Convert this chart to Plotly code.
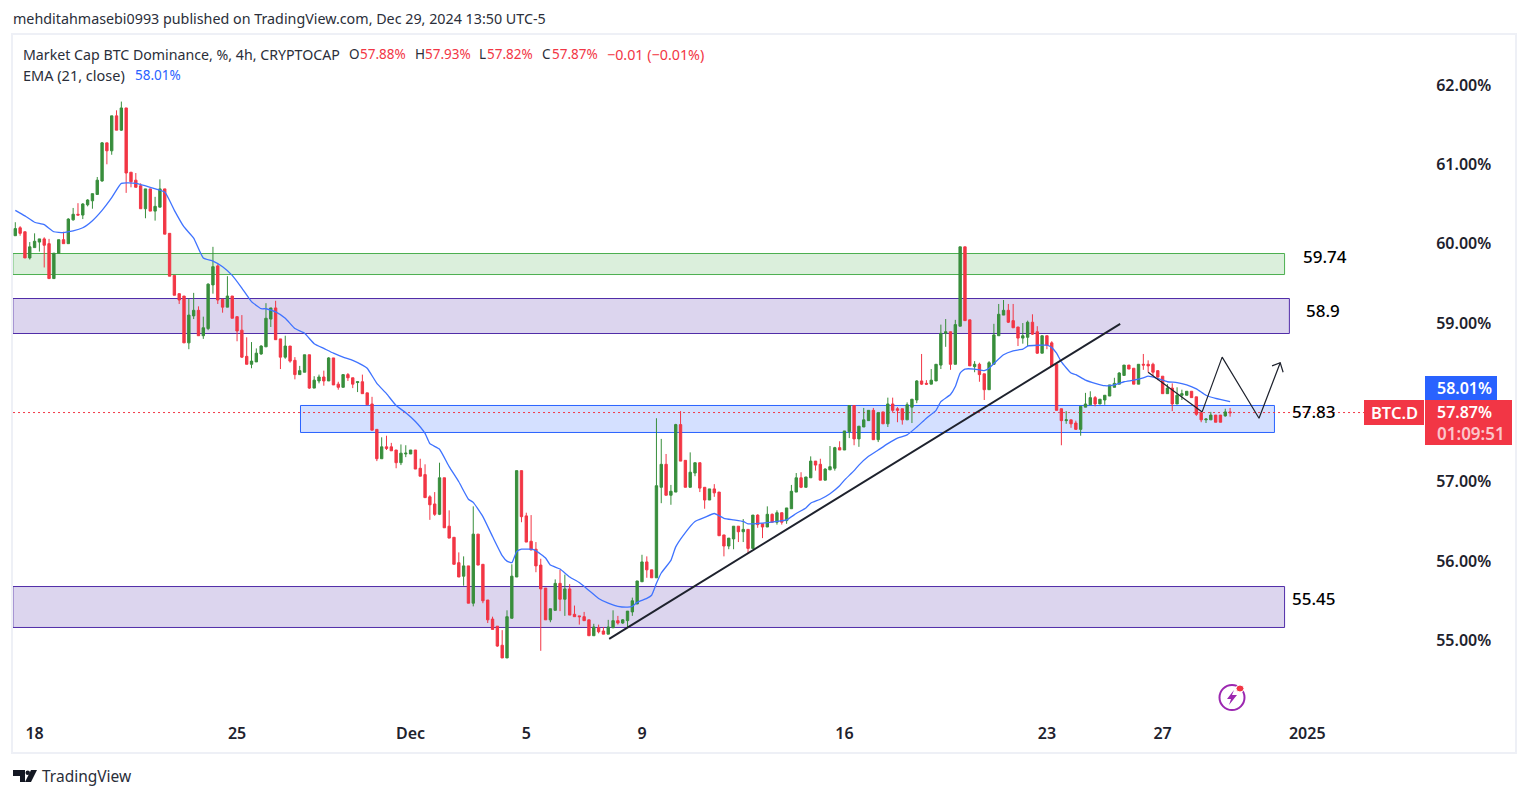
import plotly.graph_objects as go

opens = [60.10,60.20,60.15,59.82,59.95,60.02,60.06,60.00,59.56,59.88,60.05,60.00,60.30,60.37,60.36,60.49,60.54,60.62,60.79,61.27,61.17,61.61,61.43,61.71,60.90,60.80,60.73,60.44,60.69,60.41,60.46,60.69,60.13,59.60,59.37,59.34,58.75,59.09,59.16,58.84,58.93,59.48,59.72,59.30,59.20,59.34,59.08,
58.91,58.58,58.48,58.51,58.61,58.70,59.05,59.19,58.80,58.57,58.71,58.53,58.35,58.38,58.60,58.18,58.27,58.32,58.27,58.56,58.23,58.19,58.35,58.31,58.25,58.26,58.12,57.98,57.66,57.29,57.44,57.44,57.40,57.24,57.35,57.35,57.40,57.17,57.09,56.81,56.72,56.59,57.05,56.44,56.30,55.98,55.81,55.94,55.47,56.34,55.96,55.51,55.27,55.18,54.94,54.78,55.28,55.80,57.14,56.57,56.25,56.15,55.95,55.66,55.26,55.38,55.72,55.52,55.65,55.33,55.31,55.30,55.26,55.06,55.16,55.12,55.08,55.16,55.25,55.22,
55.25,55.36,55.46,55.74,55.99,55.89,55.79,56.93,57.22,56.83,56.87,57.72,57.27,56.93,57.11,57.24,56.93,56.77,56.91,56.87,56.33,56.19,56.28,56.44,56.37,56.40,56.16,56.58,56.47,56.43,56.59,56.49,56.61,56.51,56.66,56.87,57.05,56.93,57.05,57.26,57.22,57.02,57.15,57.17,57.43,
57.40,57.63,57.96,57.54,57.69,57.77,57.90,57.53,57.88,57.73,57.98,57.92,57.92,57.78,57.94,58.03,58.27,58.24,58.23,58.27,58.47,58.87,58.89,58.48,58.96,59.96,59.04,58.45,58.48,58.36,58.16,58.48,58.84,59.10,59.16,59.03,58.95,58.81,58.82,59.01,58.89,58.62,58.84,58.75,58.48,57.92,57.77,57.78,57.74,
57.66,57.94,57.97,58.06,57.98,58.03,58.08,58.19,58.23,58.34,58.47,58.43,58.23,58.48,58.48,58.48,58.40,58.33,58.11,58.18,57.98,58.09,58.09,58.14,58.07,57.87,57.78,57.78,57.84,57.84,57.83,57.88]
closes = [60.19,60.13,59.82,59.96,60.03,60.06,59.98,59.56,59.88,60.05,60.00,60.31,60.37,60.36,60.50,60.55,60.63,60.80,61.27,61.17,61.61,61.43,61.71,60.89,60.78,60.71,60.44,60.69,60.41,60.47,60.69,60.12,59.59,59.35,59.29,58.75,59.10,59.16,58.84,58.94,59.49,59.71,59.29,59.20,59.34,59.06,58.90,
58.57,58.48,58.52,58.62,58.71,59.06,59.19,58.79,58.57,58.71,58.52,58.35,58.40,58.60,58.18,58.28,58.32,58.27,58.56,58.22,58.19,58.35,58.31,58.23,58.26,58.11,57.97,57.65,57.29,57.44,57.42,57.39,57.24,57.36,57.36,57.40,57.16,57.07,56.80,56.71,56.59,57.05,56.42,56.29,55.96,55.80,55.94,55.47,56.34,55.95,55.50,55.26,55.14,54.93,54.78,55.30,55.81,57.14,56.56,56.24,56.14,55.94,55.65,55.26,55.40,55.72,55.52,55.65,55.32,55.30,55.30,55.25,55.06,55.17,55.11,55.08,55.17,55.25,55.22,55.26,
55.37,55.50,55.75,55.99,55.89,55.79,56.95,57.22,56.83,56.88,57.72,57.26,56.93,57.12,57.24,56.92,56.77,56.91,56.86,56.32,56.19,56.29,56.44,56.37,56.40,56.16,56.58,56.46,56.43,56.59,56.49,56.61,56.49,56.67,56.88,57.05,56.93,57.06,57.26,57.21,57.02,57.16,57.19,57.43,57.40,
57.64,57.96,57.54,57.70,57.78,57.90,57.53,57.87,57.73,57.98,57.90,57.90,57.78,57.97,58.04,58.27,58.23,58.23,58.28,58.48,58.87,58.89,58.48,58.98,59.96,59.03,58.46,58.48,58.35,58.16,58.50,58.85,59.11,59.16,59.01,58.94,58.81,58.84,59.01,58.86,58.62,58.84,58.72,58.46,57.90,57.77,57.78,57.73,57.66,
57.95,57.98,58.06,57.98,58.04,58.09,58.22,58.24,58.37,58.47,58.42,58.23,58.48,58.47,58.46,58.38,58.32,58.11,58.18,57.98,58.09,58.11,58.14,58.06,57.85,57.78,57.79,57.84,57.75,57.75,57.88,57.87]
highs = [60.27,60.22,60.15,60.02,60.13,60.06,60.08,60.06,59.88,60.05,60.15,60.32,60.45,60.51,60.51,60.56,60.63,60.84,61.28,61.27,61.61,61.68,61.79,61.71,60.90,60.89,60.76,60.69,60.69,60.59,60.81,60.69,60.13,59.60,59.37,59.34,59.31,59.38,59.21,59.08,59.50,59.96,59.74,59.30,59.59,59.34,59.08,
59.10,58.82,58.76,58.68,58.72,59.25,59.19,59.28,58.80,58.84,58.71,58.57,58.46,58.60,58.60,58.33,58.35,58.40,58.57,58.56,58.26,58.35,58.37,58.31,58.26,58.35,58.12,58.07,57.66,57.56,57.58,57.49,57.40,57.47,57.46,57.40,57.40,57.29,57.22,56.83,56.87,57.24,57.05,56.64,56.30,56.11,56.06,55.94,56.69,56.34,55.96,55.51,55.30,55.18,55.13,55.38,55.96,57.14,57.14,56.61,56.58,56.24,56.03,55.66,55.40,55.77,55.89,55.83,55.71,55.44,55.31,55.36,55.26,55.21,55.20,55.17,55.26,55.38,55.31,55.27,
55.37,55.54,55.75,56.08,56.06,55.89,57.80,57.54,57.35,56.96,57.73,57.89,57.27,57.37,57.24,57.24,56.93,56.91,56.97,56.87,56.33,56.29,56.44,56.44,56.53,56.40,56.58,56.59,56.47,56.69,56.60,56.64,56.61,56.67,56.96,57.11,57.12,57.06,57.32,57.26,57.29,57.17,57.45,57.44,57.51,
57.64,57.96,57.96,57.70,57.93,57.90,57.93,57.88,57.88,58.06,58.06,57.94,57.92,58.00,58.04,58.28,58.61,58.28,58.42,58.48,58.98,59.05,58.89,59.04,59.96,59.96,59.04,58.52,58.50,58.36,58.52,58.99,59.24,59.29,59.24,59.24,58.95,59.00,59.03,59.11,58.96,58.84,58.84,58.77,58.48,57.92,57.89,57.78,57.77,
57.95,58.12,58.14,58.08,58.04,58.09,58.22,58.31,58.38,58.47,58.47,58.43,58.48,58.61,58.53,58.50,58.40,58.33,58.23,58.24,58.19,58.16,58.14,58.14,58.07,57.87,57.80,57.88,57.84,57.84,57.92,57.93]
lows = [60.10,60.10,59.82,59.80,59.95,59.90,59.70,59.56,59.56,59.88,60.00,60.00,60.29,60.36,60.31,60.47,60.44,60.62,60.78,61.00,61.12,61.43,61.42,60.64,60.71,60.71,60.44,60.32,60.41,60.29,60.46,60.12,59.59,59.35,59.24,58.75,58.67,59.05,58.84,58.80,58.91,59.37,59.24,59.13,59.20,59.06,58.77,
58.56,58.48,58.43,58.51,58.60,58.70,58.95,58.79,58.42,58.55,58.50,58.29,58.35,58.38,58.17,58.18,58.24,58.21,58.27,58.22,58.16,58.19,58.27,58.18,58.13,58.11,57.97,57.65,57.26,57.29,57.40,57.39,57.17,57.21,57.31,57.35,57.16,57.07,56.80,56.52,56.57,56.58,56.42,56.29,55.96,55.80,55.69,55.47,55.43,55.95,55.47,55.22,55.14,54.92,54.78,54.78,55.28,55.80,56.49,56.24,56.14,55.86,54.87,55.26,55.23,55.38,55.37,55.31,55.32,55.30,55.20,55.25,55.06,55.06,55.09,55.08,55.08,55.16,55.20,55.21,
55.17,55.31,55.46,55.74,55.79,55.79,55.79,56.73,56.83,56.71,56.87,57.26,56.93,56.93,57.07,56.87,56.66,56.77,56.81,56.32,56.06,56.15,56.15,56.24,56.24,56.10,56.16,56.42,56.29,56.43,56.49,56.46,56.46,56.47,56.66,56.87,56.92,56.93,57.05,57.14,57.02,57.02,57.15,57.14,57.40,
57.40,57.55,57.46,57.44,57.69,57.77,57.53,57.50,57.73,57.69,57.87,57.75,57.72,57.78,57.74,57.99,58.22,58.22,58.23,58.27,58.42,58.70,58.41,58.48,58.96,59.03,58.46,58.38,58.26,58.03,58.16,58.48,58.84,59.10,59.00,58.94,58.71,58.74,58.71,58.85,58.61,58.62,58.67,58.46,57.90,57.46,57.73,57.68,57.66,57.58,
57.94,57.97,57.95,57.98,57.97,58.08,58.19,58.23,58.34,58.42,58.23,58.23,58.41,58.38,58.33,58.28,58.11,58.11,57.89,57.98,58.03,58.09,58.06,57.83,57.75,57.74,57.78,57.75,57.75,57.82,57.82]

ema_idx = [0,2,4,6,8,10,12,14,16,18,20,22,25,28,31,33,35,37,39,41,43,45,47,49,51,52,54,56,58,60,62,64,66,68,70,72,73,75,77,79,81,83,85,86,88,90,92,94,95,97,99,101,102,103,104,105,107,108,110,111,113,115,117,119,121,123,125,127,128,129,131,132,133,134,136,137,139,141,143,145,147,149,151,152,155,158,160,162,164,165,167,169,171,172,174,175,177,179,181,183,185,187,189,191,192,194,195,196,197,199,201,202,203,205,207,209,210,212,214,215,216,217,219,220,222,224,226,228,230,232,234,235,237,239,241,243,245,247,249,252]
ema_val = [60.42,60.35,60.27,60.24,60.15,60.14,60.16,60.20,60.29,60.42,60.58,60.76,60.76,60.71,60.65,60.42,60.21,60.07,59.82,59.78,59.71,59.60,59.44,59.27,59.18,59.18,59.14,59.06,58.93,58.87,58.74,58.68,58.62,58.57,58.53,58.47,58.43,58.24,58.11,57.96,57.87,57.76,57.61,57.48,57.41,57.19,57.00,56.78,56.74,56.56,56.31,56.07,56.00,55.98,56.12,56.15,56.15,56.13,56.04,55.95,55.90,55.80,55.73,55.63,55.53,55.47,55.43,55.42,55.43,55.48,55.53,55.57,55.72,55.85,56.01,56.18,56.36,56.50,56.55,56.60,56.54,56.52,56.50,56.47,56.48,56.50,56.52,56.60,56.67,56.73,56.78,56.85,56.95,57.02,57.14,57.21,57.32,57.40,57.48,57.55,57.59,57.69,57.80,57.90,58.01,58.10,58.20,58.37,58.42,58.42,58.40,58.43,58.49,58.60,58.65,58.67,58.71,58.72,58.72,58.69,58.62,58.51,58.37,58.35,58.28,58.24,58.21,58.22,58.26,58.28,58.31,58.33,58.30,58.26,58.25,58.22,58.17,58.09,58.05,58.01]

x_tick_idx = [4,46,82,106,130,172,214,238,268]
x_tick_text = ["18","25","Dec","5","9","16","23","27","2025"]
y_ticks = [55,56,57,58,59,60,61,62]
y_tick_hide = 58  # this level is covered by the price tags

zone_names = ["green","purple1","blue","purple2"]
zone_start = [-0.5,-0.5,59.16,-0.5]
zone_end = [263.3,264.3,261.2,263.3]
zone_top = [59.876,59.309,57.961,55.680]
zone_bottom = [59.611,58.868,57.621,55.164]
zone_border = ["#4caf50","#512da8","#2962ff","#512da8"]
zone_fill = ["rgba(76,175,80,0.2)","rgba(81,45,168,0.2)","rgba(41,98,255,0.2)","rgba(81,45,168,0.2)"]
zone_text = ["59.74","58.9","57.83","55.45"]
zone_text_idx = [271.7,271.35,269.5,269.5]
zone_text_val = [59.84,59.16,57.88,55.53]

trend_idx = [123.2,229.2]
trend_val = [55.02,58.99]
down_idx = [235.0,246.2]
down_val = [58.38,57.88]
zig_idx = [246.2,250.35,258.0,262.4]
zig_val = [57.88,58.57,57.80,58.50]
head_idx = [260.7,262.4,263.0]
head_val = [58.46,58.50,58.38]

last_price = 57.872
UP = "#388e3c"
DOWN = "#f23645"
BLUE = "#2962ff"
INK = "#131722"
FONT = "Noto Sans"

L, T, R, B = 13, 35, 1515, 752


def px(x):
    return (x - L) / (R - L)


def py(y):
    return 1 - (y - T) / (B - T)


for name, arr in [("o", opens), ("h", highs), ("l", lows), ("c", closes)]:
    assert len(arr) == 253, (name, len(arr))

xs = list(range(len(opens)))
fig = go.Figure()
fig.add_trace(go.Candlestick(
    x=xs, open=opens, high=highs, low=lows, close=closes,
    increasing=dict(line=dict(color=UP, width=1), fillcolor=UP),
    decreasing=dict(line=dict(color=DOWN, width=1), fillcolor=DOWN),
    whiskerwidth=0, showlegend=False, hoverinfo="skip",
))
fig.add_trace(go.Scatter(x=ema_idx, y=ema_val, mode="lines", showlegend=False, hoverinfo="skip",
                         line=dict(color="#3f73ff", width=1.3, shape="spline", smoothing=0.4)))
for xx, yy, w in [(trend_idx, trend_val, 2), (down_idx, down_val, 1.2), (zig_idx, zig_val, 1.2), (head_idx, head_val, 1.2)]:
    fig.add_trace(go.Scatter(x=xx, y=yy, mode="lines", showlegend=False, hoverinfo="skip",
                             line=dict(color="#1e222d", width=w)))

shapes = []
for i in range(len(zone_names)):
    shapes.append(dict(type="rect", layer="below", x0=zone_start[i], x1=zone_end[i], y0=zone_bottom[i], y1=zone_top[i],
                       fillcolor=zone_fill[i], line=dict(color=zone_border[i], width=1)))
shapes.append(dict(type="line", layer="below", x0=-0.47, x1=280, y0=last_price, y1=last_price,
                   line=dict(color=DOWN, width=1, dash="2px,3px")))


def box(x0, y0, x1, y1, color):
    return dict(type="rect", xref="paper", yref="paper", x0=px(x0), x1=px(x1), y0=py(y1), y1=py(y0),
                fillcolor=color, line=dict(width=0), layer="above")


def poly(points, color, fill=True):
    d = "M" + " L".join(f"{px(a):.5f},{py(b):.5f}" for a, b in points) + (" Z" if fill else "")
    return dict(type="path", xref="paper", yref="paper", path=d, layer="above",
                fillcolor=color if fill else "rgba(0,0,0,0)",
                line=dict(color=color, width=0 if fill else 1.5))


shapes += [box(1364, 400, 1424, 425, DOWN), box(1425, 376, 1497, 400, BLUE), box(1425, 400, 1512, 445, DOWN)]
# boost icon
shapes.append(dict(type="circle", xref="paper", yref="paper", x0=px(1219.5), x1=px(1244.5), y0=py(710), y1=py(685),
                   line=dict(color="#9c27b0", width=2), fillcolor="rgba(0,0,0,0)"))
shapes.append(poly([(1234, 690), (1227, 699), (1231, 699), (1229, 705), (1237, 695), (1232, 695)], "#9c27b0"))
shapes.append(dict(type="circle", xref="paper", yref="paper", x0=px(1236), x1=px(1244), y0=py(692), y1=py(685),
                   fillcolor=DOWN, line=dict(color="white", width=1)))
# TradingView logo
shapes.append(poly([(13, 770), (25, 770), (25, 782), (20, 782), (20, 776), (13, 776)], INK))
shapes.append(dict(type="circle", xref="paper", yref="paper", x0=px(25.5), x1=px(30), y0=py(775), y1=py(770.5),
                   fillcolor=INK, line=dict(width=0)))
shapes.append(poly([(31, 770), (37, 770), (31, 782), (25, 782)], INK))


def txt(x, y, s, size=14, color=INK, anchor="left", weight=400):
    return dict(xref="paper", yref="paper", x=px(x), y=py(y), text=s, showarrow=False, xanchor=anchor, yanchor="middle",
                xshift=0, yshift=0, borderpad=0, borderwidth=0,
                font=dict(family=FONT, size=size, color=color, weight=weight))


ann = [
    txt(13, 19, "mehditahmasebi0993 published on TradingView.com, Dec 29, 2024 13:50 UTC-5", 14.3, "#2a2e39"),
    txt(23, 54, "Market Cap BTC Dominance, %, 4h, CRYPTOCAP", 14.2, "#2a2e39"),
    txt(349, 54, "O", 13.5, "#2a2e39"), txt(360, 54, "57.88%", 13.5, DOWN),
    txt(415, 54, "H", 13.5, "#2a2e39"), txt(425, 54, "57.93%", 13.5, DOWN),
    txt(479, 54, "L", 13.5, "#2a2e39"), txt(487, 54, "57.82%", 13.5, DOWN),
    txt(542, 54, "C", 13.5, "#2a2e39"), txt(552, 54, "57.87%", 13.5, DOWN),
    txt(607, 54, "−0.01 (−0.01%)", 14.3, DOWN),
    txt(23, 75, "EMA (21, close)", 14.5, "#2a2e39"), txt(135, 75, "58.01%", 13.5, BLUE),
    txt(1394, 412, "BTC.D", 16.5, "white", "center", 600),
    txt(1464, 388, "58.01%", 16, "white", "center", 600),
    txt(1464, 412, "57.87%", 16, "white", "center", 600),
    txt(1471, 433, "01:09:51", 17, "rgba(255,255,255,0.72)", "center", 600),
    txt(42, 776, "TradingView", 15.5, "#2a2e39"),
]
for i in range(len(zone_text)):
    ann.append(dict(x=zone_text_idx[i], y=zone_text_val[i], text=zone_text[i], showarrow=False,
                    xanchor="center", yanchor="middle", font=dict(family=FONT, size=17, color="#000000", weight=500)))

axis_line = dict(showline=True, mirror=True, linecolor="#eef0f6", linewidth=2, showgrid=False, zeroline=False, fixedrange=True)
fig.update_layout(
    width=1529, height=798, autosize=False,
    margin=dict(l=L, r=1529 - R, t=T, b=798 - B, pad=0),
    paper_bgcolor="white", plot_bgcolor="white", showlegend=False,
    shapes=shapes, annotations=ann,
    xaxis=dict(range=[-0.477, 311.1], rangeslider=dict(visible=False), tickmode="array",
               tickvals=x_tick_idx, ticktext=x_tick_text, ticks="", ticklabelposition="inside",
               ticklabelstandoff=10, tickfont=dict(family=FONT, size=16, color="#1e222d", weight=600), **axis_line),
    yaxis=dict(range=[53.595, 62.629], side="right", tickmode="array", tickvals=[v for v in y_ticks if v != y_tick_hide],
               ticktext=[f"{v:.2f}%" for v in y_ticks if v != y_tick_hide], ticks="",
               ticklabelposition="inside", ticklabelstandoff=24,
               tickfont=dict(family=FONT, size=16, color="#1e222d", weight=600), **axis_line),
)
fig.write_html("out.html", post_script="document.body.style.margin='0';document.documentElement.style.overflow='hidden';",
               config=dict(displayModeBar=False))
